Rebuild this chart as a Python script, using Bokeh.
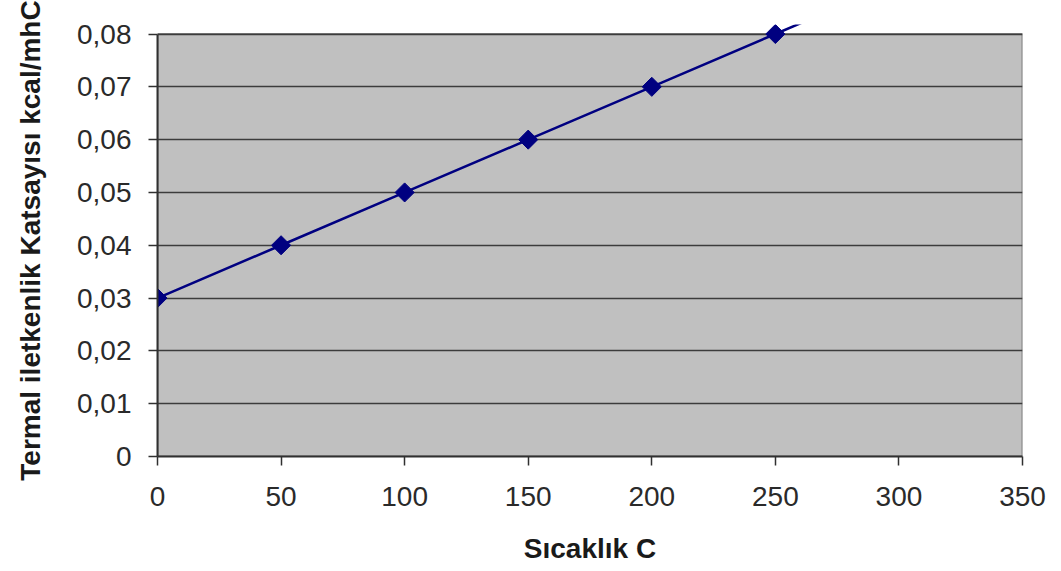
from bokeh.plotting import figure
from bokeh.models import Range1d, FixedTicker, CustomJSTickFormatter, ColumnDataSource
from bokeh.embed import file_html
from bokeh.resources import INLINE
import math

# Thermal conductivity vs temperature
temperature = [0, 50, 100, 150, 200, 250, 300]
conductivity = [0.03, 0.04, 0.05, 0.06, 0.07, 0.08, 0.09]

x_ticks = [0, 50, 100, 150, 200, 250, 300, 350]
y_ticks = [0, 0.01, 0.02, 0.03, 0.04, 0.05, 0.06, 0.07, 0.08]

x_min, x_max = 0, 350
y_min, y_max = 0, 0.08

FONT = "Liberation Sans"

p = figure(
    width=1061, height=571,
    output_backend="svg", toolbar_location=None,
    x_range=Range1d(x_min, x_max), y_range=Range1d(y_min, 0.0818),
    min_border_left=157, min_border_right=39,
    min_border_top=24, min_border_bottom=115,
)
p.outline_line_color = None
p.background_fill_color = "white"
p.border_fill_color = "white"

# grey plot area with its border
p.quad(left=[x_min], right=[x_max], bottom=[y_min], top=[y_max],
       fill_color="#C0C0C0", line_color="#808080", line_width=2, level="image")

# horizontal gridlines only
p.xgrid.visible = False
p.ygrid.grid_line_color = "#3c3c3c"
p.ygrid.grid_line_width = 1.5
p.ygrid.ticker = FixedTicker(ticks=y_ticks)

# axes
for ax in (p.xaxis[0], p.yaxis[0]):
    ax.axis_line_color = "#303030"
    ax.axis_line_width = 2
    ax.major_tick_line_color = "#303030"
    ax.major_tick_line_width = 1.5
    ax.major_tick_out = 9
    ax.major_tick_in = 0
    ax.minor_tick_line_color = None
    ax.major_label_text_font = FONT
    ax.major_label_text_font_size = "28px"
    ax.major_label_text_color = "#2a2a2a"
    ax.axis_label_text_font = FONT
    ax.axis_label_text_font_size = "28px"
    ax.axis_label_text_font_style = "bold"
    ax.axis_label_text_color = "#1a1a1a"

p.xaxis.ticker = FixedTicker(ticks=x_ticks)
p.yaxis.ticker = FixedTicker(ticks=y_ticks)
p.xaxis.bounds = (x_min, x_max)
p.yaxis.bounds = (y_min, y_max)
p.yaxis.formatter = CustomJSTickFormatter(
    code='return tick == 0 ? "0" : tick.toFixed(2).replace(".", ",");')
p.xaxis.major_label_standoff = 21
p.yaxis.major_label_standoff = 17
p.xaxis.axis_label = "Sıcaklık C"
p.yaxis.axis_label = "Termal iletkenlik Katsayısı kcal/mhC"
p.xaxis.axis_label_standoff = 24
p.yaxis.axis_label_standoff = 28

src = ColumnDataSource(dict(x=temperature, y=conductivity))
p.line("x", "y", source=src, line_color="#000080", line_width=2.5)
p.scatter("x", "y", source=src, marker="square", size=13.5, angle=math.pi / 4,
          fill_color="#000080", line_color="#000080")

open("out.html", "w").write(file_html(p, INLINE))
